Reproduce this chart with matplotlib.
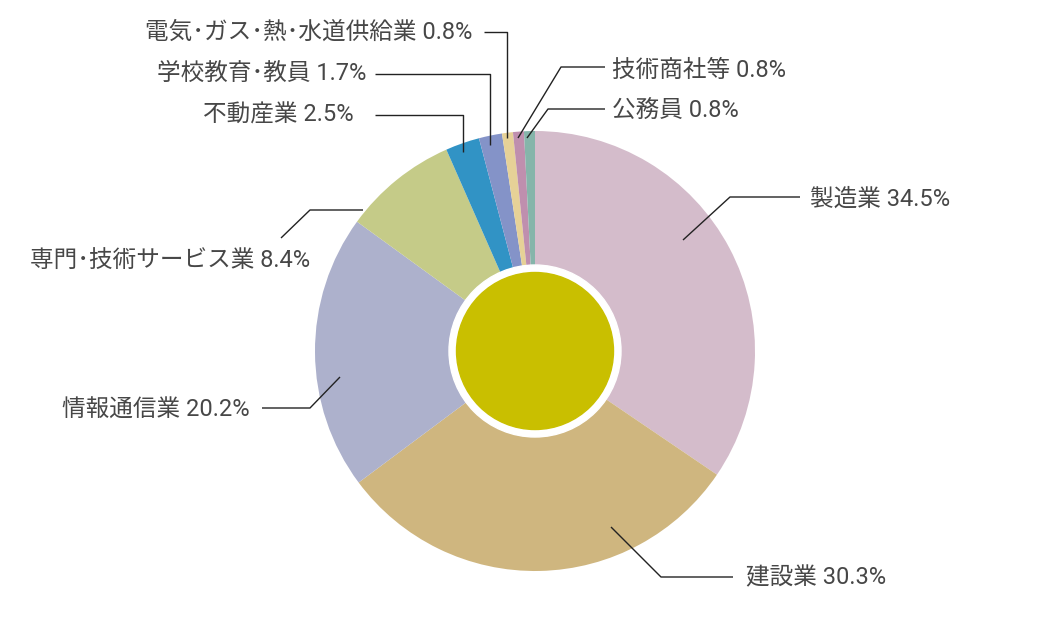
import matplotlib.pyplot as plt

plt.rcParams['font.family'] = ['Roboto', 'Noto Sans CJK JP', 'DejaVu Sans']

categories = ['製造業', '建設業', '情報通信業', '専門･技術サービス業', '不動産業',
              '学校教育･教員', '電気･ガス･熱･水道供給業', '技術商社等', '公務員']
shares = [34.5, 30.3, 20.2, 8.4, 2.5, 1.7, 0.8, 0.8, 0.8]
colors = ['#d4bccb', '#cfb67f', '#adb1cc', '#c5cb88', '#3193c5',
          '#8493c8', '#e6d197', '#bf8fae', '#85b5aa']

W, H = 1050, 634


def py(y):
    # pixel row -> data y (axes runs bottom-up)
    return H - y


# leader lines in pixel coords (start inside wedge -> elbow -> end), label pos, alignment
leaders = [
    ([(683, 240), (730, 197), (800, 197)], (810, 199), 'left'),
    ([(611, 527), (661, 577), (733, 577)], (746, 578), 'left'),
    ([(340, 377), (310, 408), (262, 408)], (250, 410), 'right'),
    ([(363, 210), (310, 210), (281, 238)], (170, 260), 'center'),
    ([(463, 152), (463, 115), (375, 115)], (354, 115), 'right'),
    ([(490, 145), (490, 74), (375, 74)], (366, 73), 'right'),
    ([(507, 138), (507, 32), (484, 32)], (472, 32), 'right'),
    ([(518, 138), (561, 67), (605, 67)], (612, 70), 'left'),
    ([(527, 138), (548, 109), (605, 109)], (612, 110), 'left'),
]

fig = plt.figure(figsize=(W / 100, H / 100), dpi=100)
ax = fig.add_axes([0, 0, 1, 1])
ax.set_xlim(0, W)
ax.set_ylim(0, H)
ax.set_aspect('equal')
ax.axis('off')

cx, cy = 535, py(351)
ax.pie(shares, colors=colors, startangle=90, counterclock=False,
       radius=220, center=(cx, cy), frame=True,
       wedgeprops=dict(linewidth=0))
ax.add_patch(plt.Circle((cx, cy), 86, color='white', zorder=3))
ax.add_patch(plt.Circle((cx, cy), 78.5, color='#c9bf00', zorder=4))

for name, val, (pts, (tx, ty), ha) in zip(categories, shares, leaders):
    xs = [p[0] for p in pts]
    ys = [py(p[1]) for p in pts]
    ax.plot(xs, ys, color='#222222', lw=1, zorder=5, solid_capstyle='butt')
    ax.text(tx, py(ty), f'{name} {val}%', ha=ha, va='center',
            fontsize=17, color='#474747', zorder=6)

ax.set_xlim(0, W)
ax.set_ylim(0, H)
fig.savefig('out.png', dpi=100)
